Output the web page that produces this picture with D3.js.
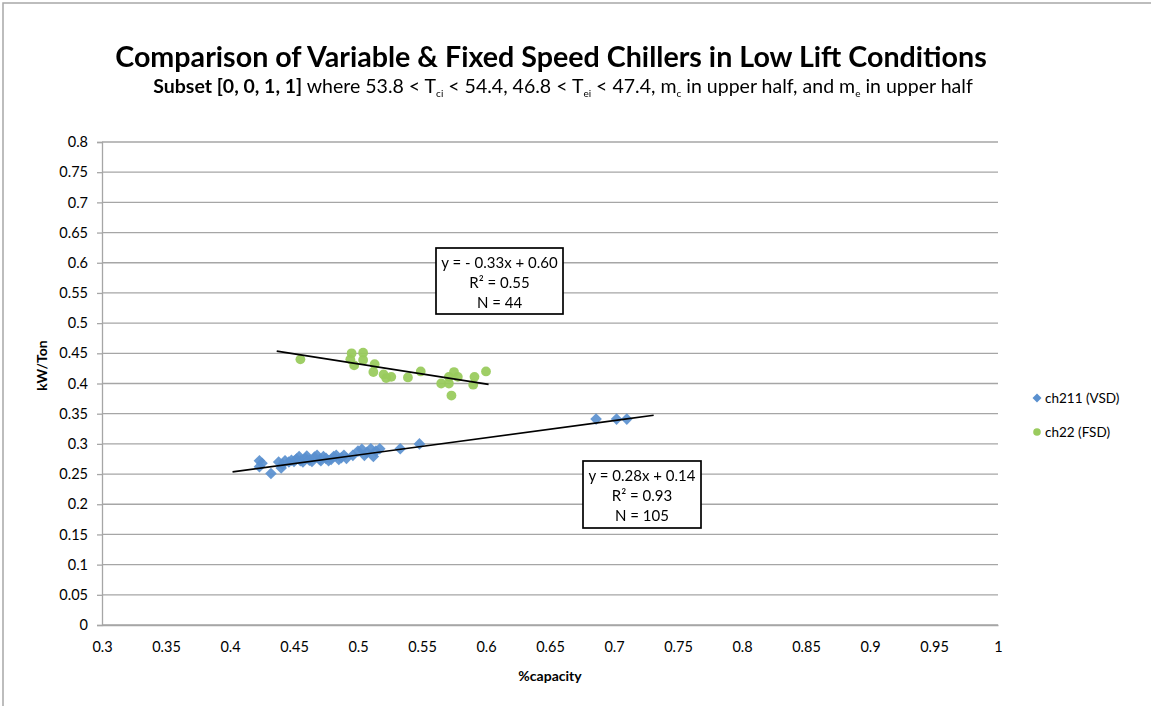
<!DOCTYPE html>
<html>
<head>
<meta charset="utf-8">
<script src="https://cdn.jsdelivr.net/npm/d3@7"></script>
<style>
  body { margin: 0; background: #fff; }
  svg { display: block; font-family: Lato, "Open Sans", sans-serif; }
</style>
</head>
<body>
<svg id="chart" width="1151" height="706"></svg>
<script>
// ---------- DATA ----------
const xTickValues = [0.3, 0.35, 0.4, 0.45, 0.5, 0.55, 0.6, 0.65, 0.7, 0.75, 0.8, 0.85, 0.9, 0.95, 1];
const yTickValues = [0, 0.05, 0.1, 0.15, 0.2, 0.25, 0.3, 0.35, 0.4, 0.45, 0.5, 0.55, 0.6, 0.65, 0.7, 0.75, 0.8];
const xTickLabels = ["0.3","0.35","0.4","0.45","0.5","0.55","0.6","0.65","0.7","0.75","0.8","0.85","0.9","0.95","1"];
const yTickLabels = ["0","0.05","0.1","0.15","0.2","0.25","0.3","0.35","0.4","0.45","0.5","0.55","0.6","0.65","0.7","0.75","0.8"];

const seriesNames = ["ch211 (VSD)", "ch22 (FSD)"];

// ch211 (VSD): [%capacity, kW/Ton]
const vsdX = [0.423,0.423,0.425,0.432,0.438,0.440,0.441,0.443,0.446,0.448,0.450,0.452,0.454,0.455,0.457,0.459,0.460,0.462,0.464,0.466,0.468,0.470,0.471,0.473,0.475,0.477,0.479,0.481,0.483,0.485,0.487,0.489,0.491,0.496,0.500,0.503,0.505,0.507,0.510,0.512,0.514,0.517,0.533,0.548,0.686,0.702,0.710];
const vsdY = [0.272,0.262,0.268,0.251,0.270,0.260,0.266,0.272,0.270,0.273,0.271,0.275,0.279,0.272,0.270,0.276,0.280,0.273,0.271,0.278,0.281,0.274,0.272,0.279,0.276,0.272,0.274,0.279,0.281,0.274,0.277,0.281,0.276,0.281,0.288,0.291,0.281,0.286,0.292,0.279,0.288,0.292,0.292,0.300,0.341,0.341,0.341];

// ch22 (FSD)
const fsdX = [0.455,0.495,0.504,0.494,0.504,0.497,0.513,0.512,0.520,0.522,0.526,0.539,0.549,0.565,0.571,0.571,0.575,0.578,0.573,0.590,0.591,0.600];
const fsdY = [0.440,0.450,0.451,0.440,0.439,0.430,0.432,0.419,0.415,0.409,0.411,0.410,0.420,0.400,0.411,0.400,0.419,0.411,0.380,0.398,0.411,0.420];

// trendlines: [slope, intercept, xStart, xEnd]
const vsdTrend = [0.285, 0.139, 0.402, 0.731];
const fsdTrend = [-0.333, 0.599, 0.4365, 0.602];

const vsdLabel = ["y = 0.28x + 0.14", "R² = 0.93", "N = 105"];
const fsdLabel = ["y = - 0.33x + 0.60", "R² = 0.55", "N = 44"];

const titleText = "Comparison of Variable & Fixed Speed Chillers in Low Lift Conditions";
const xTitle = "%capacity";
const yTitle = "kW/Ton";

// ---------- DRAW ----------
const svg = d3.select("#chart");
const W = 1151, H = 706;
const BLUE = "#5a90cf", GREEN = "#9acb5e", GRID = "#a6a6a6";

const defs = svg.append("defs");
defs.append("filter").attr("id", "soft").attr("x", "-50%").attr("y", "-50%").attr("width", "200%").attr("height", "200%")
  .append("feGaussianBlur").attr("stdDeviation", 0.55);

svg.append("rect").attr("x", 0).attr("y", 0).attr("width", W).attr("height", H).attr("fill", "#fff");
// outer chart border
svg.append("rect").attr("x", 3).attr("y", 3).attr("width", W + 20).attr("height", H + 20)
  .attr("fill", "none").attr("stroke", "#a8a8a8").attr("stroke-width", 1.5);

const x = d3.scaleLinear().domain([0.3, 1]).range([102, 998]);
const y = d3.scaleLinear().domain([0, 0.8]).range([625, 142]);

// gridlines
svg.append("g").selectAll("line").data(yTickValues).join("line")
  .attr("x1", x(0.3)).attr("x2", x(1))
  .attr("y1", d => y(d)).attr("y2", d => y(d))
  .attr("stroke", GRID).attr("stroke-width", 1.3);

// y axis
const yAxis = d3.axisLeft(y).tickValues(yTickValues).tickSize(5).tickPadding(9)
  .tickFormat((d, i) => yTickLabels[i]);
const gy = svg.append("g").attr("transform", `translate(${x(0.3)},0)`).call(yAxis);
gy.select(".domain").attr("stroke", GRID).attr("stroke-width", 1.3);
gy.selectAll(".tick line").attr("stroke", GRID).attr("stroke-width", 1.3);
gy.selectAll(".tick text").attr("font-size", 14.5).attr("font-family", "Lato, sans-serif").attr("fill", "#000");

// x axis
const xAxis = d3.axisBottom(x).tickValues(xTickValues).tickSize(0).tickPadding(17)
  .tickFormat((d, i) => xTickLabels[i]);
const gx = svg.append("g").attr("transform", `translate(0,${y(0)})`).call(xAxis);
gx.select(".domain").attr("stroke", GRID).attr("stroke-width", 1.3);
gx.selectAll(".tick text").attr("font-size", 14.5).attr("font-family", "Lato, sans-serif").attr("fill", "#000");

// axis titles
svg.append("text").attr("x", (x(0.3) + x(1)) / 2).attr("y", 681).attr("text-anchor", "middle")
  .attr("font-weight", "bold").attr("font-size", 14).text(xTitle);
svg.append("text").attr("transform", `translate(47,${(y(0) + y(0.8)) / 2 - 18}) rotate(-90)`)
  .attr("text-anchor", "middle").attr("font-weight", "bold").attr("font-size", 14).text(yTitle);

// trendlines
function trendLine(t) {
  return [[t[2], t[0] * t[2] + t[1]], [t[3], t[0] * t[3] + t[1]]];
}
const lineGen = d3.line().x(d => x(d[0])).y(d => y(d[1]));

// points
const vsdData = vsdX.map((v, i) => [v, vsdY[i]]);
const fsdData = fsdX.map((v, i) => [v, fsdY[i]]);
const diamond = r => `M0,${-r}L${r},0L0,${r}L${-r},0Z`;

svg.append("g").attr("filter", "url(#soft)").selectAll("path").data(vsdData).join("path")
  .attr("d", diamond(5.8))
  .attr("transform", d => `translate(${x(d[0])},${y(d[1])})`)
  .attr("fill", BLUE).attr("fill-opacity", 0.92);

svg.append("g").attr("filter", "url(#soft)").selectAll("circle").data(fsdData).join("circle")
  .attr("r", 4.9)
  .attr("cx", d => x(d[0])).attr("cy", d => y(d[1]))
  .attr("fill", GREEN).attr("fill-opacity", 0.95);

svg.append("path").datum(trendLine(vsdTrend)).attr("d", lineGen)
  .attr("fill", "none").attr("stroke", "#000").attr("stroke-width", 1.6);
svg.append("path").datum(trendLine(fsdTrend)).attr("d", lineGen)
  .attr("fill", "none").attr("stroke", "#000").attr("stroke-width", 1.6);

// annotation boxes
function box(x0, y0, w, h, lines) {
  const g = svg.append("g");
  g.append("rect").attr("x", x0).attr("y", y0).attr("width", w).attr("height", h)
    .attr("fill", "#fff").attr("stroke", "#000").attr("stroke-width", 1.7);
  g.selectAll("text").data(lines).join("text")
    .attr("x", x0 + w / 2).attr("y", (d, i) => y0 + 20 + i * 20)
    .attr("text-anchor", "middle").attr("font-size", 15).attr("fill", "#000").text(d => d);
}
box(436, 248, 127, 66, fsdLabel);
box(583, 461, 118, 67, vsdLabel);

// title
const title = svg.append("text").attr("x", 551).attr("y", 67).attr("text-anchor", "middle")
  .attr("font-weight", "bold").attr("font-size", 25).attr("fill", "#000").text(titleText);
function fitWidth(sel, target) {
  const w = sel.node().getComputedTextLength();
  const fs = parseFloat(sel.attr("font-size"));
  sel.attr("font-size", fs * target / w);
}
fitWidth(title, 872);

// subtitle with subscripts
const sub = svg.append("text").attr("x", 563).attr("y", 93).attr("text-anchor", "middle")
  .attr("font-size", 14).attr("fill", "#000");
const parts = [
  ["Subset [0, 0, 1, 1]", "b"], [" where 53.8 < T", "n"], ["ci", "s"], [" < 54.4, 46.8 < T", "n"],
  ["ei", "s"], [" < 47.4, m", "n"], ["c", "s"], [" in upper half, and m", "n"], ["e", "s"], [" in upper half", "n"]
];
let prevSub = false;
parts.forEach(p => {
  const t = sub.append("tspan").text(p[0]);
  if (p[1] === "b") t.attr("font-weight", "bold");
  if (p[1] === "s") { t.attr("font-size", 10).attr("dy", 4); prevSub = true; }
  else if (prevSub) { t.attr("dy", -4); prevSub = false; }
});
fitWidth(sub, 830);

// legend
const leg = svg.append("g");
leg.append("path").attr("d", diamond(4.5))
  .attr("transform", "translate(1037,398)").attr("fill", BLUE);
leg.append("text").attr("x", 1045).attr("y", 403).attr("font-size", 13.5).text(seriesNames[0]);
leg.append("circle").attr("r", 3.8).attr("cx", 1037).attr("cy", 432).attr("fill", GREEN);
leg.append("text").attr("x", 1045).attr("y", 437).attr("font-size", 13.5).text(seriesNames[1]);
</script>
</body>
</html>
